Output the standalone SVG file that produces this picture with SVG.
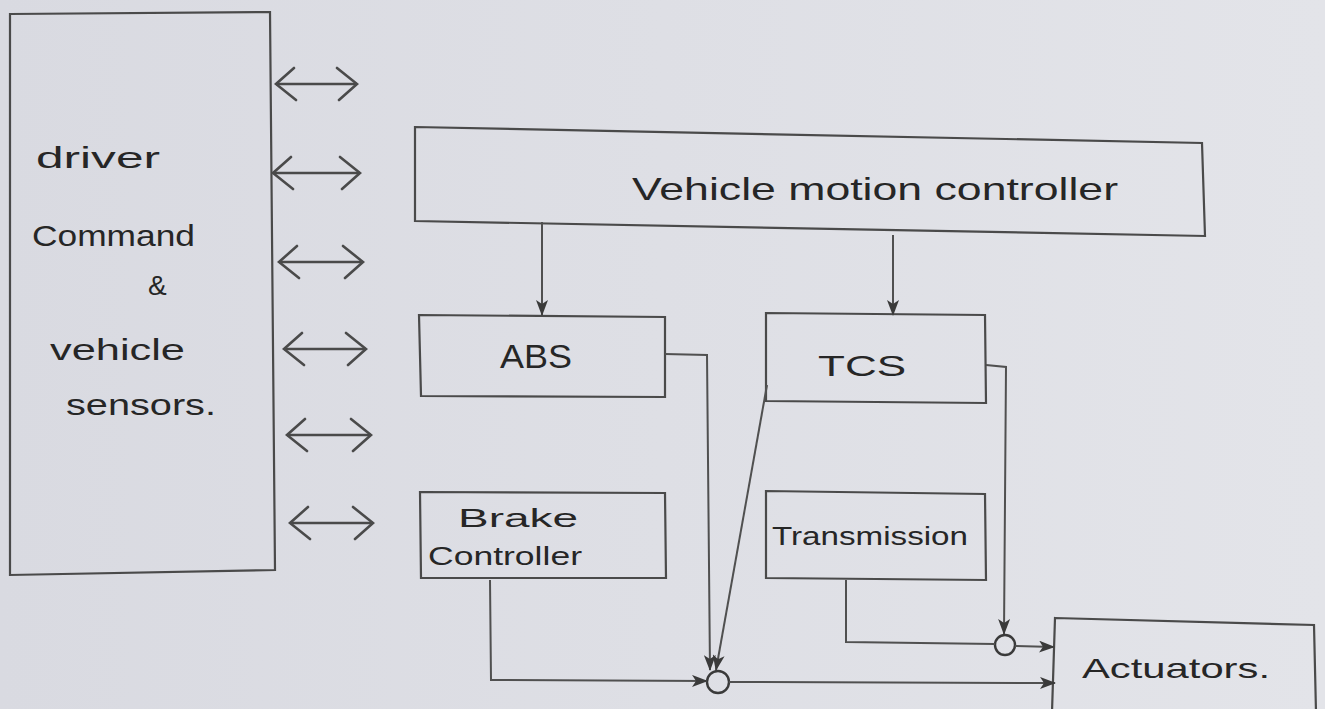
<svg xmlns="http://www.w3.org/2000/svg" width="1325" height="709" viewBox="0 0 1325 709">
<style>
.box{fill:none;stroke:#4a4a4a;stroke-width:2.2;stroke-linejoin:miter}
.ln{fill:none;stroke:#505050;stroke-width:2}
.dbl{fill:none;stroke:#4a4a4a;stroke-width:2.4;marker-start:url(#chev);marker-end:url(#chev)}
.arr{marker-end:url(#tri)}
.t{font-family:"Liberation Sans","DejaVu Sans",sans-serif;fill:#262626}
</style>
<defs>
<linearGradient id="paper" x1="0" y1="0" x2="1" y2="0">
<stop offset="0" stop-color="#d9dae1"/>
<stop offset="1" stop-color="#e3e4e9"/>
</linearGradient>
<marker id="chev" viewBox="0 0 24 36" refX="22" refY="18" markerWidth="24" markerHeight="36" markerUnits="userSpaceOnUse" orient="auto-start-reverse">
<polyline points="2,2 22,18 4,34" fill="none" stroke="#4a4a4a" stroke-width="2.6" stroke-linecap="round"/>
</marker>
<marker id="tri" viewBox="0 0 16 12" refX="15" refY="6" markerWidth="16" markerHeight="12" markerUnits="userSpaceOnUse" orient="auto">
<path d="M0,0 L16,6 L0,12 L4,6 z" fill="#3a3a3a"/>
</marker>
</defs>
<rect width="1325" height="709" fill="url(#paper)"/>

<g id="driver-sensors">
<path class="box" d="M10,14 L270,12 L275,570 L10,575 Z"/>
<text class="t" x="36" y="168" font-size="30" textLength="124" lengthAdjust="spacingAndGlyphs">driver</text>
<text class="t" x="32" y="246" font-size="30" textLength="163" lengthAdjust="spacingAndGlyphs">Command</text>
<text class="t" x="148" y="295" font-size="28">&amp;</text>
<text class="t" x="50" y="360" font-size="30" textLength="135" lengthAdjust="spacingAndGlyphs">vehicle</text>
<text class="t" x="66" y="415" font-size="30" textLength="150" lengthAdjust="spacingAndGlyphs">sensors.</text>
</g>

<g id="vmc">
<path class="box" d="M415,127 L1202,143 L1205,236 L415,221 Z"/>
<text class="t" x="632" y="200" font-size="32" textLength="486" lengthAdjust="spacingAndGlyphs">Vehicle motion controller</text>
</g>

<g id="abs">
<path class="box" d="M419,315 L665,317 L665,397 L421,396 Z"/>
<text class="t" x="500" y="368" font-size="34" textLength="72" lengthAdjust="spacingAndGlyphs">ABS</text>
</g>

<g id="tcs">
<path class="box" d="M766,313 L985,315 L986,403 L766,401 Z"/>
<text class="t" x="818" y="376" font-size="30" textLength="88" lengthAdjust="spacingAndGlyphs">TCS</text>
</g>

<g id="brake">
<path class="box" d="M420,492 L665,493 L666,578 L421,578 Z"/>
<text class="t" x="458" y="527" font-size="26" textLength="120" lengthAdjust="spacingAndGlyphs">Brake</text>
<text class="t" x="428" y="565" font-size="26" textLength="154" lengthAdjust="spacingAndGlyphs">Controller</text>
</g>

<g id="transmission">
<path class="box" d="M766,491 L985,494 L986,580 L766,578 Z"/>
<text class="t" x="772" y="545" font-size="26" textLength="196" lengthAdjust="spacingAndGlyphs">Transmission</text>
</g>

<g id="actuators">
<path class="box" d="M1055,618 L1314,625 L1316,712 L1052,712 Z"/>
<text class="t" x="1082" y="678" font-size="28" textLength="188" lengthAdjust="spacingAndGlyphs">Actuators.</text>
</g>

<g id="junction-main">
<circle cx="718" cy="682" r="11" fill="none" stroke="#3a3a3a" stroke-width="2.4"/>
</g>
<g id="junction-trans">
<circle cx="1005" cy="645" r="10" fill="none" stroke="#3a3a3a" stroke-width="2.4"/>
</g>

<g id="connectors">
<line class="dbl" x1="276" y1="84" x2="357" y2="84"/>
<line class="dbl" x1="273" y1="173" x2="360" y2="173"/>
<line class="dbl" x1="279" y1="262" x2="363" y2="262"/>
<line class="dbl" x1="284" y1="349" x2="366" y2="349"/>
<line class="dbl" x1="287" y1="435" x2="371" y2="435"/>
<line class="dbl" x1="290" y1="523" x2="373" y2="523"/>

<line class="ln arr" x1="542" y1="222" x2="542" y2="315"/>
<line class="ln arr" x1="893" y1="235" x2="893" y2="315"/>

<polyline class="ln arr" points="665,354 707,355 710,670"/>
<line class="ln arr" x1="767" y1="385" x2="716" y2="670"/>
<polyline class="ln arr" points="490,580 491,680 707,681"/>
<line class="ln arr" x1="729" y1="682" x2="1055" y2="683"/>

<polyline class="ln arr" points="986,365 1006,367 1004,634"/>
<polyline class="ln" points="846,580 846,642 995,644"/>
<line class="ln arr" x1="1015" y1="646" x2="1054" y2="647"/>
</g>
</svg>
